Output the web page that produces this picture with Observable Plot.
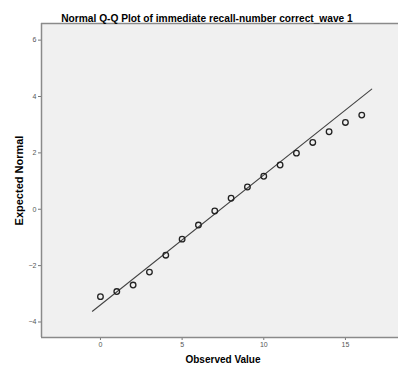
<!DOCTYPE html>
<html>
<head>
<meta charset="utf-8">
<script src="https://cdn.jsdelivr.net/npm/d3@7"></script>
<script src="https://cdn.jsdelivr.net/npm/@observablehq/plot@0.6"></script>
<style>
  html, body { margin: 0; padding: 0; background: #fff; }
</style>
</head>
<body>
<div id="chart"></div>
<script>
const title = "Normal Q-Q Plot of immediate recall-number correct_wave 1";
const xLabel = "Observed Value";
const yLabel = "Expected Normal";
const observed = [0, 1, 2, 3, 4, 5, 6, 7, 8, 9, 10, 11, 12, 13, 14, 15, 16];
const expected = [-3.10, -2.92, -2.69, -2.23, -1.63, -1.06, -0.56, -0.06, 0.39, 0.79, 1.17, 1.57, 1.99, 2.37, 2.75, 3.08, 3.34];
const lineX = [-0.49, 16.61];
const lineY = [-3.62, 4.26];
const xTicks = [0, 5, 10, 15];
const yTicks = [-4, -2, 0, 2, 4, 6];

const points = observed.map((x, i) => ({x, y: expected[i]}));
const refLine = lineX.map((x, i) => ({x, y: lineY[i]}));

const chart = Plot.plot({
  width: 398,
  height: 381,
  marginLeft: 41,
  marginRight: 0,
  marginTop: 23,
  marginBottom: 44,
  style: {fontFamily: "Liberation Sans, Arial, sans-serif", background: "#fff", overflow: "visible"},
  x: {domain: [-3.61, 18.25], ticks: xTicks, tickSize: 3, tickPadding: 2},
  y: {domain: [-4.55, 6.59], ticks: yTicks, tickSize: 3, tickPadding: 2},
  marks: [
    Plot.frame({fill: "#f0f0f0", stroke: null}),
    Plot.axisX({ticks: xTicks, tickSize: 3, tickPadding: 2, fontSize: 7, color: "#555", stroke: "#777", label: null}),
    Plot.axisY({ticks: yTicks, tickSize: 3, tickPadding: 2, fontSize: 7, color: "#555", stroke: "#777", label: null}),
    Plot.ruleY([-4.55], {stroke: "#8a8a8a", strokeWidth: 1.5}),
    Plot.ruleY([6.59], {stroke: "#8a8a8a", strokeWidth: 1.5}),
    Plot.ruleX([-3.61], {stroke: "#8a8a8a", strokeWidth: 1.5}),
    Plot.line(refLine, {x: "x", y: "y", stroke: "#444", strokeWidth: 1.1}),
    Plot.dot(points, {x: "x", y: "y", r: 2.8, stroke: "#222", strokeWidth: 1.3, fill: "none"}),
    Plot.text([title], {frameAnchor: "top", dx: -13, dy: -9, fontSize: 10.2, fontWeight: "bold", fill: "#000"}),
    Plot.text([xLabel], {frameAnchor: "bottom", dx: 3, dy: 25, fontSize: 10, fontWeight: "bold", fill: "#000"}),
    Plot.text([yLabel], {frameAnchor: "left", dx: -22, rotate: -90, textAnchor: "middle", fontSize: 11, fontWeight: "bold", fill: "#000"})
  ]
});
document.getElementById("chart").appendChild(chart);
</script>
</body>
</html>
